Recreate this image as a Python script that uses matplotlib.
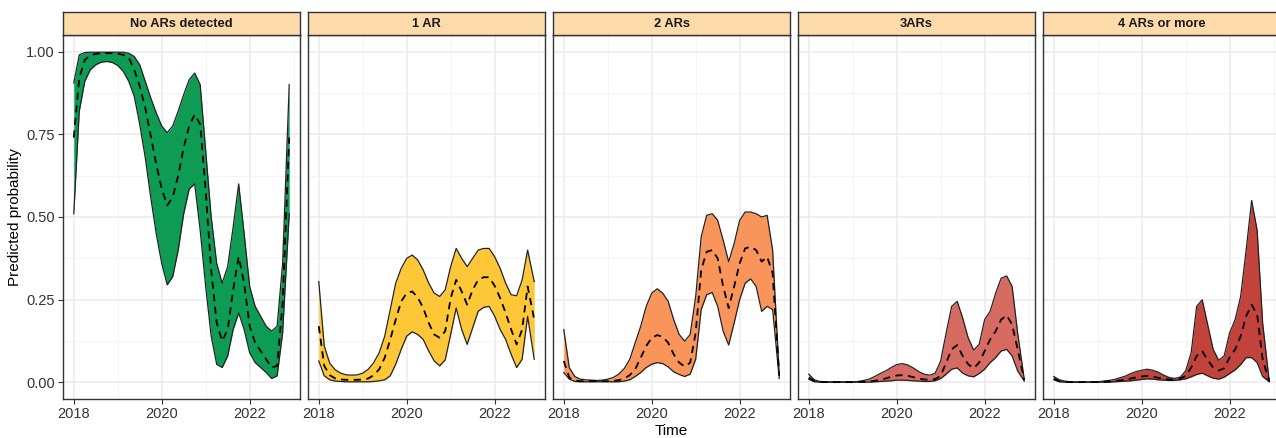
import matplotlib
matplotlib.use("Agg")
import matplotlib.pyplot as plt

plt.rcParams['font.family'] = ['Liberation Sans', 'DejaVu Sans']

# time axis (years) shared by all panels
time = [2018.0, 2018.125, 2018.25, 2018.375, 2018.5, 2018.625, 2018.75, 2018.875,
        2019.0, 2019.125, 2019.25, 2019.375, 2019.5, 2019.625, 2019.75, 2019.875,
        2020.0, 2020.125, 2020.25, 2020.375, 2020.5, 2020.625, 2020.75, 2020.875,
        2021.0, 2021.125, 2021.25, 2021.375, 2021.5, 2021.625, 2021.75, 2021.875,
        2022.0, 2022.125, 2022.25, 2022.375, 2022.5, 2022.625, 2022.75, 2022.9]

titles = ['No ARs detected', '1 AR', '2 ARs', '3ARs', '4 ARs or more']
colors = ['#0E9C55', '#FDC737', '#F9955A', '#D76B61', '#C2433C']

# No ARs detected
no_ar_upper = [0.905, 0.99, 0.997, 0.998, 0.998, 0.998, 0.998, 0.998,
               0.998, 0.998, 0.995, 0.985, 0.96, 0.91, 0.86, 0.815,
               0.775, 0.755, 0.775, 0.82, 0.87, 0.915, 0.935, 0.90,
               0.70, 0.50, 0.36, 0.30, 0.35, 0.47, 0.60, 0.45,
               0.29, 0.23, 0.20, 0.17, 0.155, 0.17, 0.36, 0.90]
no_ar_mean = [0.74, 0.92, 0.975, 0.988, 0.993, 0.995, 0.995, 0.995,
              0.994, 0.99, 0.982, 0.945, 0.895, 0.83, 0.745, 0.66,
              0.585, 0.535, 0.56, 0.625, 0.71, 0.775, 0.81, 0.78,
              0.58, 0.34, 0.18, 0.125, 0.16, 0.28, 0.38, 0.30,
              0.17, 0.12, 0.095, 0.07, 0.045, 0.05, 0.24, 0.74]
no_ar_lower = [0.51, 0.82, 0.91, 0.945, 0.96, 0.968, 0.97, 0.967,
               0.958, 0.94, 0.91, 0.865, 0.78, 0.68, 0.56, 0.45,
               0.36, 0.295, 0.32, 0.40, 0.51, 0.585, 0.60, 0.46,
               0.29, 0.14, 0.055, 0.045, 0.08, 0.16, 0.21, 0.16,
               0.09, 0.06, 0.045, 0.03, 0.012, 0.02, 0.15, 0.51]

# 1 AR
one_ar_upper = [0.305, 0.11, 0.058, 0.038, 0.028, 0.023, 0.022, 0.023,
                0.028, 0.04, 0.06, 0.09, 0.14, 0.22, 0.30, 0.345,
                0.375, 0.385, 0.37, 0.34, 0.30, 0.27, 0.26, 0.28,
                0.35, 0.405, 0.375, 0.35, 0.375, 0.40, 0.405, 0.405,
                0.38, 0.345, 0.30, 0.265, 0.262, 0.31, 0.40, 0.305]
one_ar_mean = [0.17, 0.05, 0.022, 0.012, 0.009, 0.008, 0.008, 0.008,
               0.009, 0.012, 0.022, 0.04, 0.075, 0.13, 0.19, 0.245,
               0.27, 0.275, 0.257, 0.225, 0.18, 0.145, 0.135, 0.155,
               0.255, 0.31, 0.275, 0.235, 0.28, 0.31, 0.318, 0.318,
               0.292, 0.255, 0.21, 0.16, 0.115, 0.16, 0.29, 0.19]
one_ar_lower = [0.065, 0.02, 0.008, 0.004, 0.003, 0.002, 0.002, 0.002,
                0.002, 0.002, 0.003, 0.005, 0.008, 0.02, 0.055, 0.10,
                0.14, 0.153, 0.145, 0.13, 0.095, 0.065, 0.05, 0.068,
                0.145, 0.225, 0.16, 0.115, 0.165, 0.215, 0.227, 0.23,
                0.20, 0.16, 0.13, 0.085, 0.045, 0.07, 0.20, 0.07]

# 2 ARs
two_ar_upper = [0.16, 0.045, 0.018, 0.01, 0.008, 0.007, 0.006, 0.007,
                0.01, 0.015, 0.025, 0.042, 0.07, 0.12, 0.17, 0.23,
                0.27, 0.283, 0.27, 0.245, 0.19, 0.145, 0.125, 0.145,
                0.26, 0.44, 0.505, 0.51, 0.49, 0.43, 0.365, 0.42,
                0.49, 0.515, 0.515, 0.51, 0.50, 0.505, 0.40, 0.025]
two_ar_mean = [0.065, 0.015, 0.006, 0.004, 0.004, 0.004, 0.004, 0.004,
               0.004, 0.005, 0.007, 0.012, 0.022, 0.04, 0.075, 0.11,
               0.135, 0.143, 0.138, 0.12, 0.085, 0.06, 0.048, 0.06,
               0.15, 0.34, 0.395, 0.40, 0.375, 0.29, 0.225, 0.29,
               0.36, 0.405, 0.41, 0.40, 0.365, 0.38, 0.33, 0.02]
two_ar_lower = [0.03, 0.01, 0.003, 0.002, 0.002, 0.002, 0.002, 0.002,
                0.002, 0.002, 0.002, 0.004, 0.008, 0.018, 0.03, 0.045,
                0.055, 0.06, 0.057, 0.047, 0.032, 0.024, 0.018, 0.025,
                0.07, 0.22, 0.265, 0.272, 0.23, 0.155, 0.113, 0.18,
                0.25, 0.30, 0.313, 0.29, 0.215, 0.23, 0.22, 0.012]

# 3 ARs
three_ar_upper = [0.025, 0.008, 0.003, 0.002, 0.002, 0.002, 0.002, 0.002,
                  0.002, 0.003, 0.006, 0.01, 0.018, 0.027, 0.035, 0.045,
                  0.054, 0.057, 0.053, 0.044, 0.033, 0.025, 0.022, 0.028,
                  0.065, 0.15, 0.23, 0.245, 0.195, 0.135, 0.098, 0.115,
                  0.19, 0.215, 0.27, 0.315, 0.322, 0.29, 0.15, 0.01]
three_ar_mean = [0.015, 0.004, 0.002, 0.001, 0.001, 0.001, 0.001, 0.001,
                 0.001, 0.0015, 0.002, 0.003, 0.005, 0.008, 0.012, 0.017,
                 0.021, 0.022, 0.02, 0.016, 0.012, 0.009, 0.008, 0.01,
                 0.02, 0.06, 0.10, 0.113, 0.08, 0.055, 0.043, 0.06,
                 0.095, 0.13, 0.155, 0.19, 0.203, 0.175, 0.10, 0.008]
three_ar_lower = [0.01, 0.002, 0.001, 0.0005, 0.0005, 0.0005, 0.0005, 0.0005,
                  0.0005, 0.001, 0.001, 0.001, 0.002, 0.003, 0.004, 0.005,
                  0.007, 0.007, 0.006, 0.005, 0.004, 0.003, 0.003, 0.005,
                  0.012, 0.025, 0.04, 0.044, 0.028, 0.02, 0.017, 0.027,
                  0.04, 0.06, 0.075, 0.095, 0.10, 0.08, 0.035, 0.004]

# 4 ARs or more
four_ar_upper = [0.018, 0.008, 0.004, 0.002, 0.002, 0.002, 0.002, 0.002,
                 0.002, 0.004, 0.006, 0.009, 0.014, 0.019, 0.027, 0.033,
                 0.037, 0.04, 0.037, 0.031, 0.022, 0.015, 0.012, 0.016,
                 0.035, 0.09, 0.23, 0.25, 0.175, 0.10, 0.067, 0.08,
                 0.15, 0.19, 0.26, 0.40, 0.55, 0.46, 0.18, 0.004]
four_ar_mean = [0.012, 0.004, 0.002, 0.001, 0.001, 0.001, 0.001, 0.001,
                0.001, 0.002, 0.003, 0.004, 0.006, 0.008, 0.012, 0.015,
                0.018, 0.02, 0.018, 0.014, 0.011, 0.009, 0.008, 0.012,
                0.02, 0.045, 0.08, 0.095, 0.068, 0.045, 0.036, 0.043,
                0.076, 0.10, 0.14, 0.20, 0.235, 0.205, 0.07, 0.003]
four_ar_lower = [0.008, 0.002, 0.001, 0.0005, 0.0005, 0.0005, 0.0005, 0.0005,
                 0.0005, 0.001, 0.001, 0.002, 0.003, 0.004, 0.005, 0.007,
                 0.009, 0.011, 0.01, 0.008, 0.007, 0.006, 0.006, 0.008,
                 0.011, 0.017, 0.024, 0.028, 0.02, 0.013, 0.01, 0.016,
                 0.027, 0.038, 0.054, 0.075, 0.075, 0.06, 0.018, 0.002]

uppers = [no_ar_upper, one_ar_upper, two_ar_upper, three_ar_upper, four_ar_upper]
means = [no_ar_mean, one_ar_mean, two_ar_mean, three_ar_mean, four_ar_mean]
lowers = [no_ar_lower, one_ar_lower, two_ar_lower, three_ar_lower, four_ar_lower]

W, H = 1276, 438
fig = plt.figure(figsize=(W / 100, H / 100), dpi=100)

strip_col = '#FCDAAA'
edge_col = '#333333'

for i in range(5):
    left = 63 + i * 245
    ax = fig.add_axes([left / W, (H - 399) / H, 237 / W, 364 / H])

    # ribbon plus its outline, then the dashed mean
    ax.fill_between(time, lowers[i], uppers[i], color=colors[i], lw=0, zorder=2)
    ax.plot(time, uppers[i], color='#222222', lw=0.9, zorder=3)
    ax.plot(time, lowers[i], color='#222222', lw=0.9, zorder=3)
    ax.plot(time, means[i], color='black', lw=1.3, ls=(0, (4, 3)), zorder=4)

    ax.set_xlim(2017.755, 2023.145)
    ax.set_ylim(-0.05, 1.05)
    ax.set_xticks([2018, 2020, 2022])
    ax.set_xticks([2019, 2021, 2023], minor=True)
    ax.set_yticks([0, 0.25, 0.5, 0.75, 1.0])
    ax.set_yticklabels(['0.00', '0.25', '0.50', '0.75', '1.00'])
    ax.set_yticks([0.125, 0.375, 0.625, 0.875], minor=True)
    ax.grid(which='major', color='#EBEBEB', lw=1.1)
    ax.grid(which='minor', color='#F3F3F3', lw=0.6)
    ax.set_axisbelow(True)
    ax.tick_params(which='minor', length=0)
    ax.tick_params(which='major', length=3.5, width=0.8, color=edge_col,
                   labelsize=10.5, labelcolor='#333333', pad=2.5)
    if i > 0:
        ax.tick_params(left=False, labelleft=False)
    for s in ax.spines.values():
        s.set_color(edge_col)
        s.set_linewidth(1.0)

    # facet strip
    st = fig.add_axes([left / W, (H - 35) / H, 237 / W, 23 / H])
    st.set_facecolor(strip_col)
    st.set_xticks([])
    st.set_yticks([])
    for s in st.spines.values():
        s.set_color(edge_col)
        s.set_linewidth(1.0)
    st.text(0.5, 0.48, titles[i], ha='center', va='center', fontsize=9.3,
            fontweight='bold', color='#1a1a1a', transform=st.transAxes)

fig.text(671 / W, 1 - 431 / H, 'Time', ha='center', va='center', fontsize=11)
fig.text(15 / W, 1 - 217 / H, 'Predicted probability', ha='center', va='center',
         rotation=90, fontsize=11)

fig.savefig('out.png', dpi=100)
